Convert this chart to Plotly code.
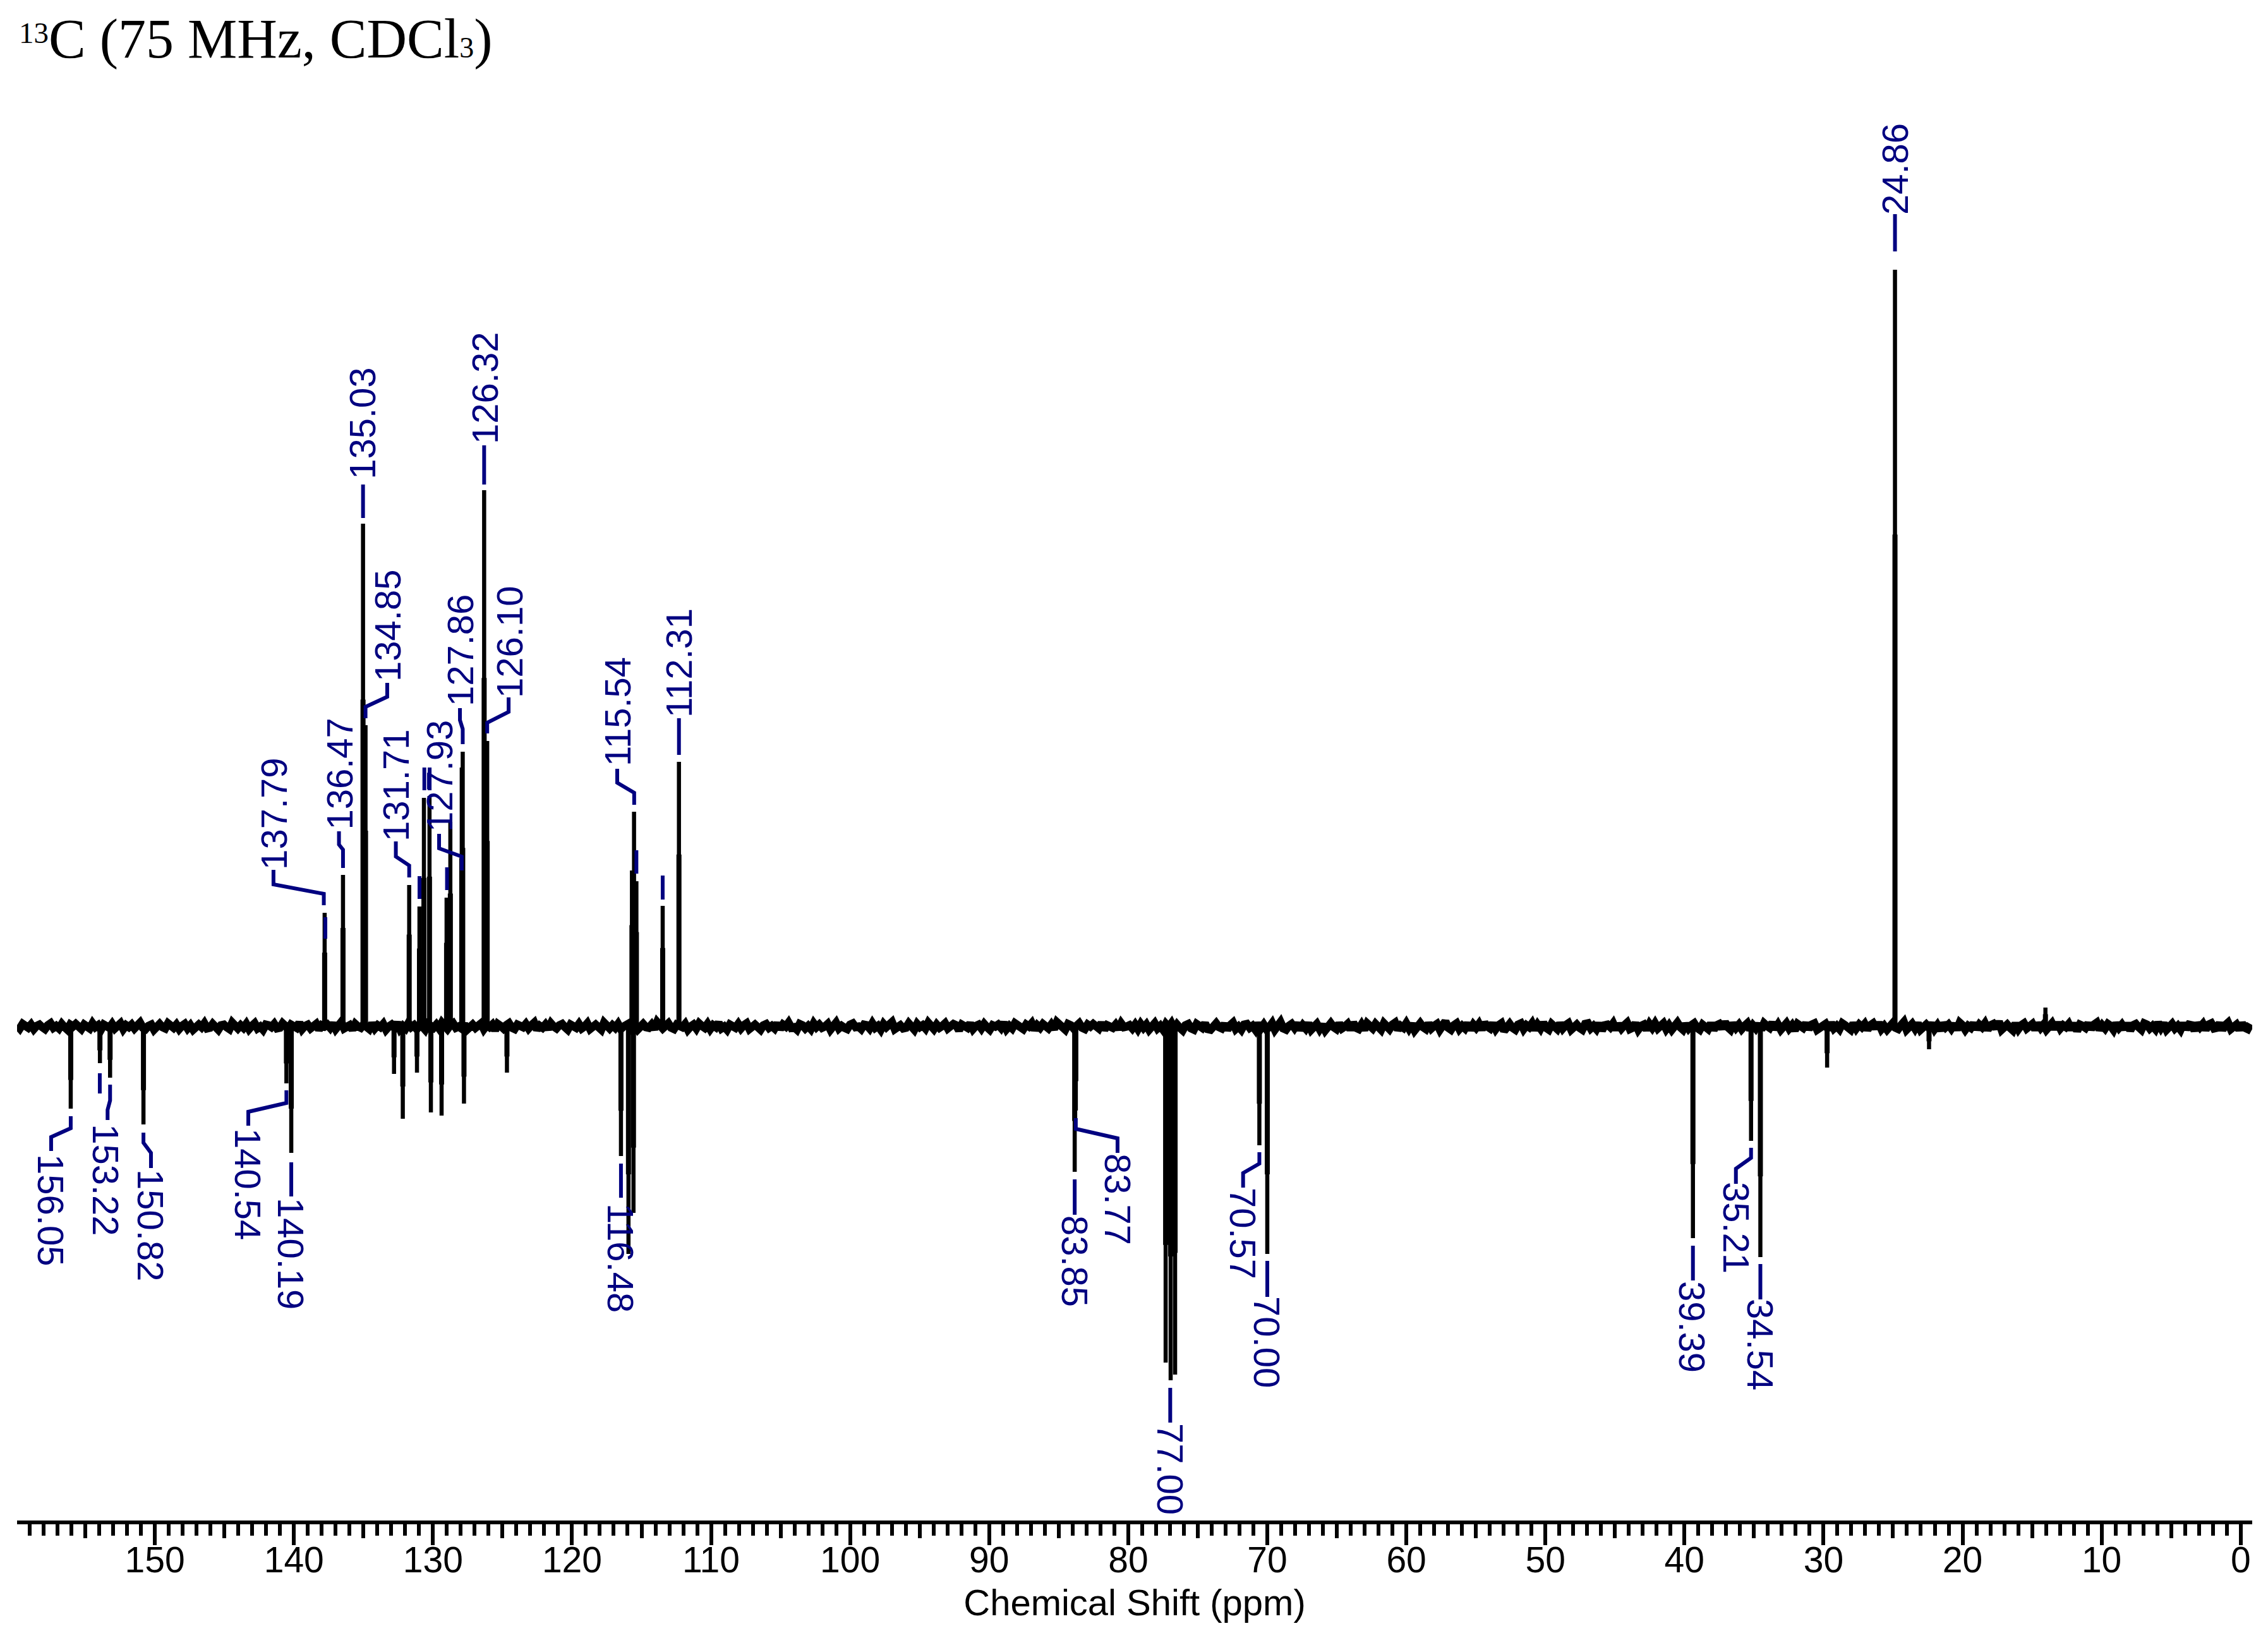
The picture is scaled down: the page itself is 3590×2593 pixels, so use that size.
import numpy as np
import plotly.graph_objects as go

# 13C spectrum, intensity in arbitrary units
peak_ppm = [137.79, 136.47, 135.03, 134.85, 131.71, 130.97, 130.65, 130.25, 129.02, 128.75,
            127.93, 127.86, 126.32, 126.10, 115.69, 115.54, 115.37, 113.48, 112.31, 24.86, 14.04,
            156.05, 153.95, 153.22, 150.82, 140.54, 140.19, 132.80, 132.17, 131.15, 130.15,
            129.38, 127.77, 124.68, 116.48, 115.94, 115.58, 83.85, 83.77, 77.31, 76.95, 76.63,
            70.57, 70.00, 39.39, 35.21, 34.54, 29.74, 22.41]
peak_height = [180, 240, 796, 477, 224, 190, 362, 365, 204, 324,
               410, 435, 849, 452, 247, 340, 230, 191, 419, 1198, 30,
               -130, -58, -81, -155, -90, -200, -75, -146, -73, -136,
               -141, -122, -73, -205, -360, -295, -230, -133, -532, -560, -551,
               -188, -360, -335, -181, -365, -65, -36]

# baseline wiggle, left to right
baseline = [
    2, -3, 4, 0, -2, 3, -4, 1, 3, -1, -4, 2, 5, -2, 1, -3, 4, -1, -5, 3,
    0, 4, -2, -4, 3, 1, -3, 5, -1, 2, -5, 3, 0, -2, 4, -3, 1, 5, -4, 2,
    -1, 3, -3, 0, 6, -2, -4, 1, 3, -5, 2, 4, -1, -3, 5, 0, -2, 3, -4, 1,
    4, -3, 2, -5, 0, 3, -1, 5, -3, -2, 4, 1, -5, 2, 3, -1, -4, 6, 0, -3,
    2, -2, 4, -4, 1, 5, -3, 0, -5, 3, 2, -1, 4, -3, -2, 5, 1, -4, 3, 0,
    -2, 6, -4, 1, 3, -3, -1, 4, -5, 2, 0, 3, -2, 5, -4, 1, 7, -3, -1, 2,
    -5, 4, 0, -2, 3, 1, -4, 5, -3, 2, -1, 4, -5, 0, 3, -2, 6, -4, 1, -3,
    5, -1, 2, -4, 3, 0, -5, 4, 1, -2, 3, -3, 6, -1, -4, 2, 5, -2, 0, -3,
    4, -5, 1, 3, -2, 0, 5, -4, 2, -1, 3, -6, 4, 1, -3, 2, 5, -2, -4, 3,
    0, -1, 4, -3, 2, 6, -5, 1, -2, 3, -4, 5, 0, -3, 2, 4, -1, -5, 3, 1,
    -2, 4, -3, 0, 5, -4, 2, 3, -1, -5, 6, 1, -3, 2, -2, 4, -4, 0, 3, 5,
    -3, 1, -5, 2, 4, -1, -2, 3, -4, 7, 0, -3, 1, 5, -2, -4, 3, 2, -1, 4,
    -5, 0, 3, -3, 5, 1, -2, 4, -4, 2, -1, 6, -3, 0, -5, 3, 1, -2, 4, -3,
    2, 5, -4, 0, 3, -1, -5, 2, 4, -2, 1, -3, 5, -4, 3, 0, 6, -2, -1, -5,
    4, 2, -3, 1, -4, 5, -1, 3, -2, 0, 4, -5, 2, 6, -3, 1, -2, -4, 3, 5,
    -1, 0, -4, 3, 2, -3, 5, -2, 1, -5, 4, -1, 3, 7, -4, 0, 2, -3, -2, 5,
    1, -5, 4, -1, 2, -3, 6, 0, -4, 3, -2, 1, 5, -3, -1, 4, 2, -6, 3, 0,
    -2, 5, -4, 1, 3, -3, 4, -1, -5, 2, 0, 3, -2, 6, -4, 1, -3, 5, 2, -1,
    -4, 3, 0, 5, -5, 2, -2, 4, 1, -3, 3, -4, 7, 0, -1, -5, 4, 2, -3, 1,
    5, -2, -4, 3, 0, 4, -1, -3, 6, -5, 2, 1, -2, 3, -4, 5, -1, 0, 2, -3,
    3, -4, 4, -2, 3, -5, 2, 5, -3, 1, -5, 4, -1, 5, -4, 3, -2, -6, 2, 4,
    -3, -5, 4, 1, -2, 5, -4, -5, 3, 5, -1, -3, 4, -5, 2, 6, -4, 0, -5, 3,
    4, -2, 1, -5, 5, -3, 3, -4, -1, 5, -5, 2, 7, -3, -5, 1, 4, -2, 5, -5,
    2, -3, 5, -5, 1, 4, -4, 3, -6, 2, 5, -1, -4, 5, -3, 0, 4, -5, 6, -2,
    -4, 3, -5, 5, 1, -3, 4, -2, -5, 5, 2, -4, 3, 6, -5, 1, -2, 5, -3, 4,
    -6, 2, 5, -1, -4, 5, -3, 1, 4, -5, 3, 8, -2, -5, 2, 5, -4, 1, -3, 5,
    -5, 3, -2, 4, -5, 6, 0, -3, 5, -4, 2, 5, -7, 1, 4, -2, -5, 3, 5, -4,
    2, -1, 5, -5, 3, -3, 6, -2, -5, 4, 1, -4, 5, -3, 2, 5, -5, 0, 3, -2,
    -5, 4, 5, -3, 1, -4, 5, -6, 2, 3, -1, 5, -5, 4, -3, 2, 6, -4, -2, 5,
    -5, 1, 3, -5, 4, -2, 5, -3, 0, 5, -4, 2, -5, 3, 6, -1, -5, 4, -3, 2,
    5, -2, -5, 3, 1, -4, 5, -5, 2, 4, -3, 7, -1, -5, 5, -2, 3, -4, 1, 5,
    -5, 2, -3, 4, -5, 5, 1, -2, 6, -4, 3, -5, 0, 5, -3, 2, -6, 4, 1, -2,
    5, -4, 3, 5, -5, -1, 2, 4, -5, 6, -3, 1, -4, 5, 2, -2, -5, 5, -3, 3,
    -1, 4, -5, 2, 5, -3, 6, -4, 1, -5, 3, 5, -2, -4, 2, 7, -5, 0, 4, -3,
    5, -5, 1, 3, -2, 5, -4, 2, -6, 5, -1, 3, -3, 4, -5, 6, 2, -5, 1, -2,
    5, -4, 3, -1, 5, -5, 2, 4, -3, 8, -5, 1, 3, -2, -6, 5, -4, 2, 5, -3,
    0, 4, -5, 5, -2, 3, -5, 1, 5, -4, 6, -3, 2, -1, 4, -5, 5, -7, 3, 1,
    -2, 5, -4, 3, 6, -5, 2, -3, 4, 1, -5, 5, -2, 3, -4, 5, -6, 2, 4, -1,
    -5, 5, 3, -3, 1, -4, 6, -2, 5, -5, 2, 4, -3, 1, -5, 5, -4, 3, 2, -6,
    5, -1, 4, -5, 3, 5, -3, -2, 5, -5, 2, 6, -4, 1, 3, -5, 5, -2, -4, 4,
]

# peak labels
label_text = ["137.79", "136.47", "135.03", "134.85", "131.71", "127.93", "127.86", "126.32", "126.10",
              "115.54", "112.31", "24.86", "156.05", "153.22", "150.82", "140.54", "140.19", "116.48",
              "83.85", "83.77", "77.00", "70.57", "70.00", "39.39", "35.21", "34.54"]
label_ppm = [141.47, 136.76, 135.11, 133.29, 132.70, 129.56, 128.06, 126.29, 124.52,
             116.75, 112.34, 24.88, 157.46, 153.51, 150.28, 143.28, 140.19, 116.48,
             83.81, 80.72, 76.95, 71.72, 70.00, 39.42, 36.24, 34.52]
label_y = [337, 400, 955, 635, 382, 396, 595, 1010, 609,
           499, 575, 1357, -291, -243, -315, -249, -359, -367,
           -371, -273, -700, -327, -500, -475, -318, -504]

# leader lines, (ppm, intensity) corners for each label
leaders = [
    [(137.85, 192), (137.85, 210), (141.47, 225), (141.47, 248)],
    [(136.47, 251), (136.47, 280), (136.76, 288), (136.76, 309)],
    [(135.03, 805), (135.03, 858)],
    [(134.85, 488), (134.85, 506), (133.29, 522), (133.29, 544)],
    [(131.71, 236), (131.71, 255), (132.67, 269), (132.67, 293)],
    [(127.93, 247), (127.93, 269), (129.56, 282), (129.56, 305)],
    [(127.86, 447), (127.86, 471), (128.06, 485), (128.06, 504)],
    [(126.32, 858), (126.32, 920)],
    [(126.10, 464), (126.10, 481), (124.56, 498), (124.56, 521)],
    [(115.53, 351), (115.53, 370), (116.75, 386), (116.75, 408)],
    [(112.31, 430), (112.31, 488)],
    [(24.86, 1227), (24.86, 1286)],
    [(156.05, -142), (156.05, -161), (157.46, -175), (157.46, -197)],
    [(153.22, -92), (153.22, -117), (153.40, -132), (153.40, -148)],
    [(150.82, -168), (150.82, -184), (150.28, -200), (150.28, -224)],
    [(140.54, -101), (140.54, -121), (143.28, -135), (143.28, -157)],
    [(140.19, -215), (140.19, -269)],
    [(116.48, -217), (116.48, -271)],
    [(83.85, -242), (83.85, -298)],
    [(83.77, -145), (83.77, -162), (80.77, -177), (80.77, -200)],
    [(76.98, -572), (76.98, -627)],
    [(70.57, -199), (70.57, -217), (71.74, -232), (71.74, -255)],
    [(70.00, -371), (70.00, -428)],
    [(39.39, -347), (39.39, -402)],
    [(35.21, -192), (35.21, -208), (36.30, -225), (36.30, -249)],
    [(34.54, -376), (34.54, -432)],
    # stubs whose labels were cut off in the original
    [(137.74, 139), (137.74, 173)],
    [(130.97, 202), (130.97, 238)],
    [(130.62, 374), (130.62, 410)],
    [(130.24, 374), (130.24, 410)],
    [(128.99, 216), (128.99, 252)],
    [(115.37, 242), (115.37, 279)],
    [(113.48, 201), (113.48, 239)],
    [(153.96, -74), (153.96, -106)],
]

navy = "#000080"
W, H = 3582, 2585   # page has an 8px body margin
ML, MR, MT, MB = 19, 25, 0, 186


def px(x, y):
    # page pixel -> paper coords
    return (x - 8 - ML) / (W - ML - MR), 1 - (y - 8 - MT) / (H - MT - MB)


# sticks go baseline -> tip -> gap, peaks are a bit fatter near the foot
stick_x, stick_y, foot_x, foot_y = [], [], [], []
for p, h in zip(peak_ppm, peak_height):
    stick_x += [p, p, None]
    stick_y += [0, h, None]
    foot_x += [p, p, None]
    foot_y += [0, h * 0.65, None]

lead_x, lead_y = [], []
for path in leaders:
    lead_x += [c[0] for c in path] + [None]
    lead_y += [c[1] for c in path] + [None]

base_ppm = np.linspace(159.91, -0.7, len(baseline))

fig = go.Figure()
fig.add_trace(go.Scatter(x=base_ppm, y=baseline, mode="lines", xaxis="x",
                         line=dict(color="black", width=13), hoverinfo="skip"))
fig.add_trace(go.Scatter(x=stick_x, y=stick_y, mode="lines", xaxis="x2",
                         line=dict(color="black", width=6.5), hoverinfo="skip"))
fig.add_trace(go.Scatter(x=foot_x, y=foot_y, mode="lines", xaxis="x2",
                         line=dict(color="black", width=8), hoverinfo="skip"))
fig.add_trace(go.Scatter(x=lead_x, y=lead_y, mode="lines", xaxis="x2",
                         line=dict(color=navy, width=6), hoverinfo="skip"))

for t, x, y in zip(label_text, label_ppm, label_y):
    fig.add_annotation(x=x, y=y, xref="x", yref="y", text=t, showarrow=False,
                       textangle=90 if y < 0 else -90,
                       font=dict(family="Liberation Sans", size=58, color=navy))

# title: small 13 sits apart from the rest
x0, y0 = px(28, 52)
fig.add_annotation(x=x0, y=y0, xref="paper", yref="paper", xanchor="left", yanchor="middle",
                   text="13", showarrow=False, font=dict(family="Liberation Serif", size=47, color="black"))
x0, y0 = px(75, 61)
fig.add_annotation(x=x0, y=y0, xref="paper", yref="paper", xanchor="left", yanchor="middle",
                   text='C (75 MHz, CDCl<span style="font-size:46px">3</span>)', showarrow=False,
                   font=dict(family="Liberation Serif", size=88, color="black"))

# thin end stop at the left of the ruler
fig.add_shape(type="line", xref="x", yref="y", x0=159.91, x1=159.91, y0=-782, y1=-818,
              line=dict(color="black", width=1.5))

x_range = [159.91, -0.83]
fig.update_layout(
    width=W, height=H, margin=dict(l=ML, r=MR, t=MT, b=MB),
    paper_bgcolor="white", plot_bgcolor="white", showlegend=False,
    xaxis=dict(range=x_range, tick0=0, dtick=10, ticks="outside", ticklen=33, tickwidth=5.5,
               tickcolor="black", showline=True, linecolor="black", linewidth=6, showgrid=False,
               zeroline=False, tickfont=dict(family="Liberation Sans", size=57, color="black"),
               ticklabelstandoff=-25,
               minor=dict(dtick=1, ticks="outside", ticklen=18, tickwidth=5.5, tickcolor="black", showgrid=False),
               title=dict(text="Chemical Shift (ppm)", standoff=18,
                          font=dict(family="Liberation Sans", size=58, color="black"))),
    xaxis2=dict(range=x_range, overlaying="x", anchor="y", side="bottom", tick0=0, dtick=5,
                ticks="outside", ticklen=27, tickwidth=5.5, tickcolor="black", showticklabels=False,
                showline=False, showgrid=False, zeroline=False),
    yaxis=dict(range=[-782, 1617], visible=False),
)

fig.write_html("out.html")
